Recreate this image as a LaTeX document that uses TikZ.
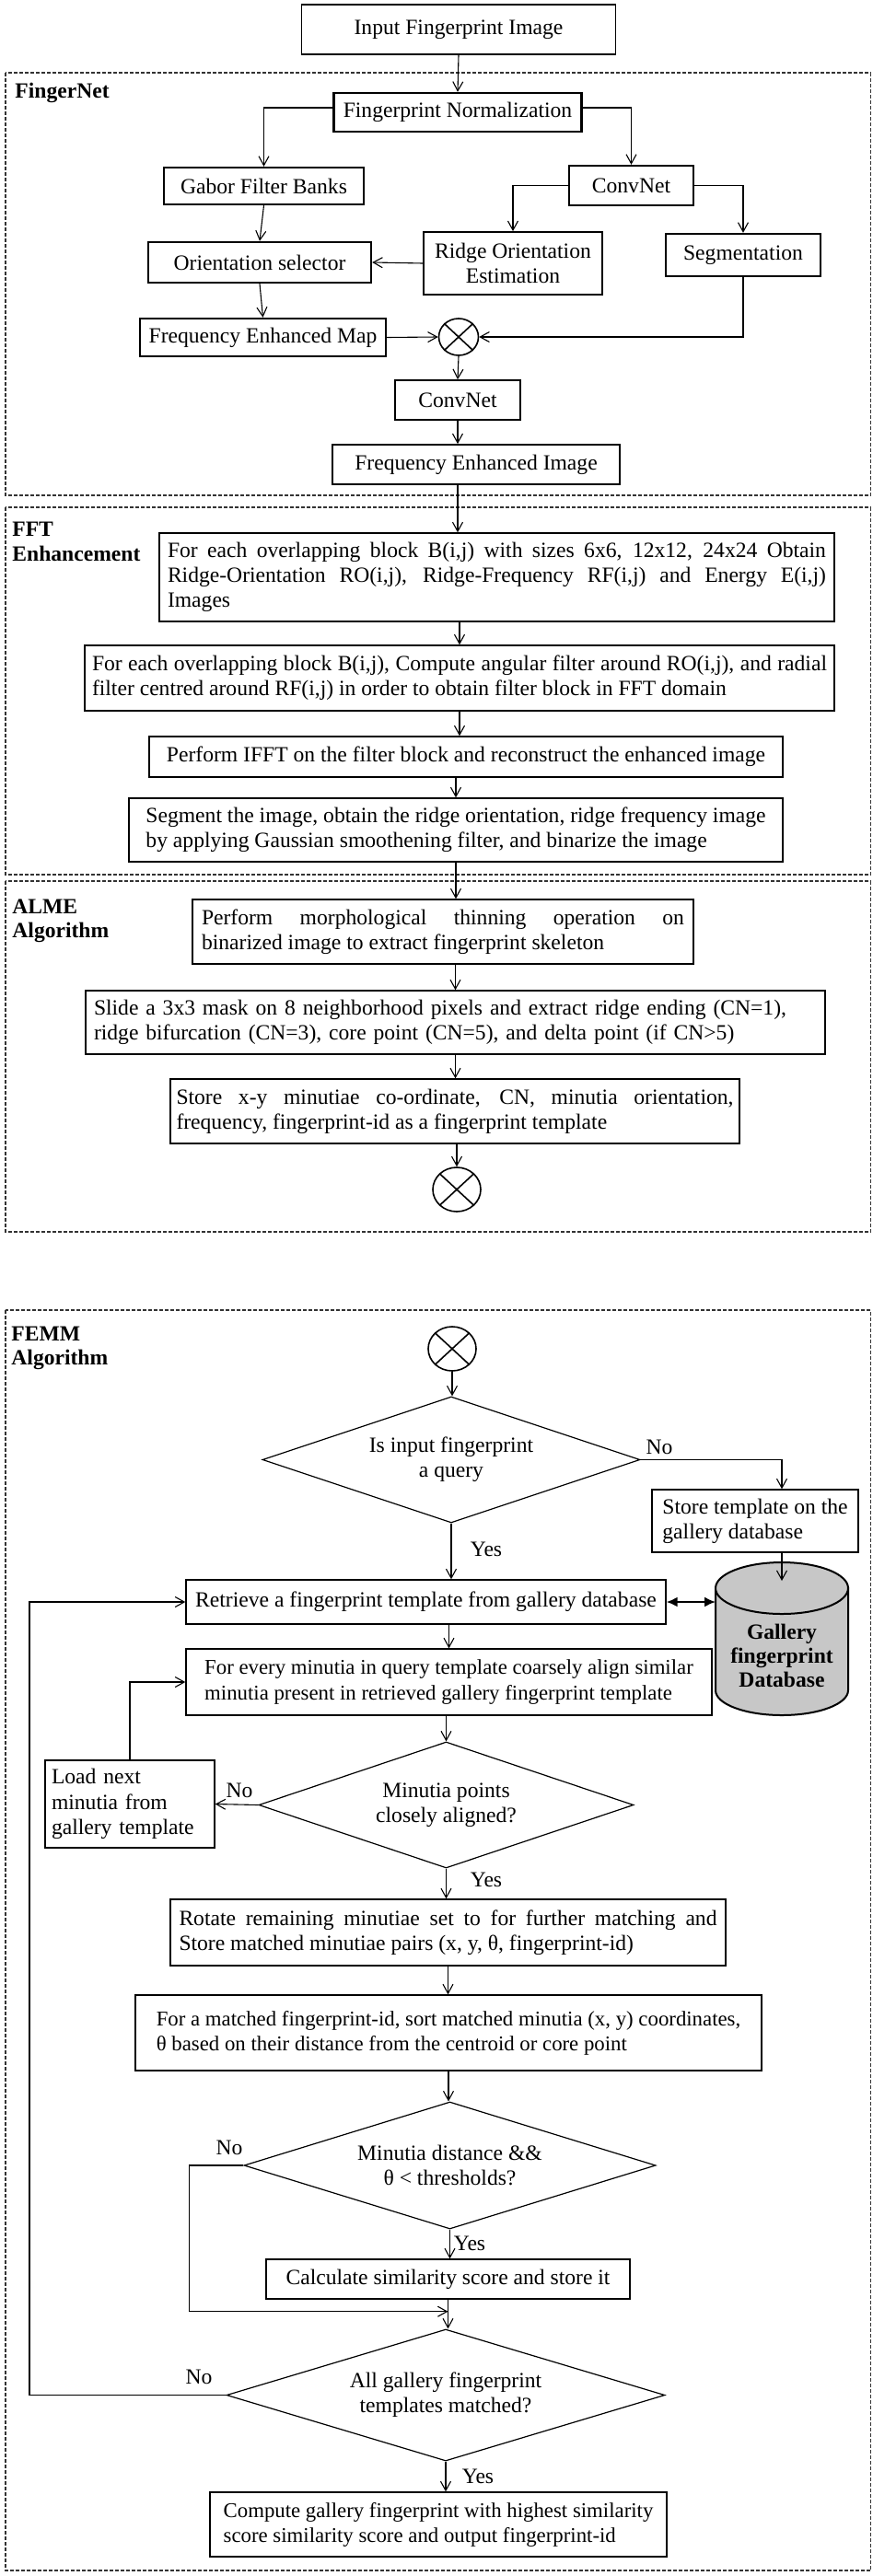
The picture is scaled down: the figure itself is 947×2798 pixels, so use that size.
\documentclass[tikz,border=0pt]{standalone}
\usepackage{fontspec}
\setmainfont{Liberation Serif}
\usetikzlibrary{arrows.meta,shapes.geometric,calc}
\newcommand{\nfont}{\fontsize{11.8pt}{13.6pt}\selectfont}
\newcommand{\sfont}{\fontsize{11.4pt}{13.6pt}\selectfont}
\tikzset{
  every node/.style={font=\nfont},
  box/.style={draw, line width=0.7pt, inner sep=0pt, rectangle},
  tb/.style={box, line width=1.2pt},
  mb/.style={box, line width=0.85pt},
  wh/.style 2 args={minimum width=#1*0.5pt, minimum height=#2*0.5pt},
  dia/.style={draw, diamond, aspect=3, line width=0.6pt, inner sep=0pt, align=center},
  xc/.style={draw, ellipse, line width=0.8pt, inner sep=0pt},
  arr/.style={-{Straight Barb[length=5pt,width=5.5pt]}, line width=0.55pt},
  darr/.style={{Latex[length=6pt,width=5.5pt]}-{Latex[length=6pt,width=5.5pt]}, line width=1pt},
  frame/.style={draw=black!80, line width=0.55pt, dash pattern=on 1.8pt off 1.2pt},
  lab/.style={font=\nfont\bfseries, inner sep=0pt, anchor=base west},
  yn/.style={inner sep=0pt}
}
\begin{document}
\hyphenpenalty=10000
\exhyphenpenalty=10000
\tolerance=9000
\begin{tikzpicture}[x=0.5pt,y=-0.5pt]
\useasboundingbox (0,0) rectangle (947,2798);
\fill[white] (0,0) rectangle (947,2798);

% frames
\draw[frame] (6,79) rectangle (945.5,538);
\draw[frame] (6,551) rectangle (945.5,950);
\draw[frame] (6,957) rectangle (945.5,1338);
\draw[frame] (6,1423) rectangle (945.5,2792);

\node[lab] (lfn) at (16,107) {FingerNet};
\node[lab] (lfft1) at (13,582) {FFT};
\node[lab] (lfft2) at (13,609) {Enhancement};
\node[lab] (lal1) at (13,992) {ALME};
\node[lab] (lal2) at (13,1018) {Algorithm};
\node[lab] (lfe1) at (12,1456) {FEMM};
\node[lab] (lfe2) at (12,1482) {Algorithm};

% ---------------- FingerNet
\node[box, wh={341}{54}] (in) at (498,32) {Input Fingerprint Image};
\node[tb, wh={269}{42}] (norm) at (497,122) {Fingerprint Normalization};
\node[tb, wh={217}{40}] (gab) at (286.5,202) {Gabor Filter Banks};
\node[tb, wh={135}{43}] (cnn1) at (685.5,201.5) {ConvNet};
\node[mb, wh={194}{68}, align=center] (ridge) at (557,286) {Ridge Orientation\\Estimation};
\node[tb, wh={168}{46}] (seg) at (807,277) {Segmentation};
\node[tb, wh={242}{44}] (os) at (282,285) {Orientation selector};
\node[tb, wh={267}{41}] (fem) at (285.5,366.5) {Frequency Enhanced Map};
\node[xc, minimum width=21.5pt, minimum height=20pt] (x1) at (498,366) {};
\draw[line width=0.8pt] (x1.north west) -- (x1.south east) (x1.north east) -- (x1.south west);
\node[mb, wh={136}{43}] (cnn2) at (497,434.5) {ConvNet};
\node[mb, wh={312}{43}] (fei) at (517,504.5) {Frequency Enhanced Image};

\draw[arr] (in.south) -- (norm.north);
\draw[arr] ([yshift=2.5pt]norm.west) -| (gab.north);
\draw[arr] ([yshift=2.5pt]norm.east) -| (cnn1.north);
\draw[arr] (cnn1.west) -| (ridge.north);
\draw[arr] (cnn1.east) -| (seg.north);
\draw[arr] (gab.south) -- (os.north);
\draw[arr] (ridge.west) -- (os.east);
\draw[arr] (os.south) -- (fem.north);
\draw[arr] (fem.east) -- (x1.west);
\draw[arr] (seg.south) |- (x1.east);
\draw[arr] (x1.south) -- (cnn2.north);
\draw[arr] (cnn2.south) -- (cnn2.south |- fei.north);

% ---------------- FFT
\node[box, wh={733}{96}, text width=357.5pt, align=justify] (f1) at (539.5,627)
 {For each overlapping block B(i,j) with sizes 6x6, 12x12, 24x24 Obtain\linebreak Ridge-Orientation RO(i,j), Ridge-Frequency RF(i,j) and Energy E(i,j)\linebreak Images};
\node[box, wh={814}{71}, text width=399pt, align=justify] (f2) at (499,736.5)
 {\parfillskip=0pt For each overlapping block B(i,j), Compute angular filter around RO(i,j), and radial\linebreak filter centred around RF(i,j) in order to obtain filter block in FFT domain};
\node[box, wh={688}{44}] (f3) at (506,822) {Perform IFFT on the filter block and reconstruct the enhanced image};
\node[box, wh={710}{69}, align=left] (f4) at (495,901.5)
 {Segment the image, obtain the ridge orientation, ridge frequency image\\by applying Gaussian smoothening filter, and binarize the image};

\draw[arr] (fei.south -| cnn2.south) -- (cnn2.south |- f1.north);
\draw[arr] (f2.north |- f1.south) -- (f2.north);
\draw[arr] (f2.south) -- (f2.south |- f3.north);
\draw[arr] (f4.north |- f3.south) -- (f4.north);

% ---------------- ALME
\node[box, wh={544}{70}, text width=262pt, align=justify] (a1) at (481,1012)
 {Perform morphological thinning operation on\linebreak binarized image to extract fingerprint skeleton};
\node[box, wh={803}{69}, text width=392.5pt, align=left] (a2) at (494.5,1110.5)
 {Slide a 3x3 mask on 8 neighborhood pixels and extract ridge ending (CN=1),\\ridge bifurcation (CN=3), core point (CN=5), and delta point (if CN>5)};
\node[box, wh={618}{70}, text width=302.5pt, align=justify] (a3) at (494,1207)
 {Store x-y minutiae co-ordinate, CN, minutia orientation,\linebreak frequency, fingerprint-id as a fingerprint template};
\node[xc, minimum width=26pt, minimum height=24pt] (x2) at (496,1292) {};
\draw[line width=0.8pt] (x2.north west) -- (x2.south east) (x2.north east) -- (x2.south west);

\draw[arr] (f4.south) -- (f4.south |- a1.north);
\draw[arr] (a2.north |- a1.south) -- (a2.north);
\draw[arr] (a2.south) -- (a2.south |- a3.north);
\draw[arr] (a3.south -| x2.north) -- (x2.north);

% ---------------- FEMM
\node[xc, minimum width=26pt, minimum height=24pt] (x3) at (491,1465) {};
\draw[line width=0.8pt] (x3.north west) -- (x3.south east) (x3.north east) -- (x3.south west);
\node[dia, wh={410}{137}] (d1) at (490,1585.5) {Is input fingerprint\\a query};
\node[box, wh={224}{68}, align=left] (store) at (820,1652) {Store template on the\\gallery database};
\node[box, wh={521}{48}] (ret) at (462.5,1740) {Retrieve a fingerprint template from gallery database};
\node[box, wh={571}{72}, align=left, font=\sfont] (fe) at (487.5,1827)
 {For every minutia in query template coarsely align similar\\minutia present in retrieved gallery fingerprint template};
\node[dia, wh={407}{137}] (d2) at (484.5,1960.5) {Minutia points\\closely aligned?};
\node[box, wh={184}{95}, text width=85pt, align=left] (load) at (141,1959.5) {Load next\\minutia from\\gallery template};
\node[box, wh={603}{72}, text width=292pt, align=justify] (rot) at (486.5,2099)
 {Rotate remaining minutiae set to for further matching and\linebreak Store matched minutiae pairs (x, y, θ, fingerprint-id)};
\node[box, wh={680}{82}, align=left, font=\sfont] (sort) at (487,2208)
 {For a matched fingerprint-id, sort matched minutia (x, y) coordinates,\\θ based on their distance from the centroid or core point};
\node[dia, wh={447}{138}] (d3) at (488.5,2352) {Minutia distance \&\&\\θ < thresholds?};
\node[box, wh={395}{43}] (calc) at (486.5,2475.5) {Calculate similarity score and store it};
\node[dia, wh={476}{143}] (d4) at (484,2601.5) {All gallery fingerprint\\templates matched?};
\node[box, wh={496}{70}, align=left, font=\sfont] (fin) at (476,2742)
 {Compute gallery fingerprint with highest similarity\\score similarity score and output fingerprint-id};

% database cylinder
\filldraw[fill=black!22, line width=1pt] (777,1725) -- (777,1836)
  arc[start angle=180, end angle=360, x radius=36pt, y radius=13.5pt] -- (921,1725) -- cycle;
\filldraw[fill=black!22, line width=1pt] (849,1725) ellipse [x radius=36pt, y radius=14pt];
\node[font=\fontsize{11.8pt}{13pt}\selectfont\bfseries, align=center, inner sep=0pt] (db) at (849,1798) {Gallery\\fingerprint\\Database};
\coordinate (dbtop) at (849,1717);
\coordinate (dbl) at (777,1738);

% labels
\node[yn] (no1) at (716,1572) {No};
\node[yn] (yes1) at (528,1683) {Yes};
\node[yn] (no2) at (260,1945) {No};
\node[yn] (yes2) at (528,2042) {Yes};
\node[yn] (no3) at (249,2333) {No};
\node[yn] (yes3) at (510,2437) {Yes};
\node[yn] (no4) at (216,2582) {No};
\node[yn] (yes4) at (519,2690) {Yes};

% connectors
\draw[arr] (x3.south) -- (x3.south |- d1.north);
\draw[arr] (d1.east) -| (dbtop |- store.north);
\draw[arr] (dbtop |- store.south) -- (dbtop);
\draw[arr] (d1.south) -- (d1.south |- ret.north);
\draw[darr] (ret.east) -- (ret.east -| dbl);
\draw[arr] (fe.north |- ret.south) -- (fe.north);
\draw[arr] (d2.north |- fe.south) -- (d2.north);
\draw[arr] (d2.west) -- (load.east);
\draw[arr] (load.north) |- (fe.west);
\draw[arr] (d2.south) -- (d2.south |- rot.north);
\draw[arr] (rot.south) -- (rot.south |- sort.north);
\draw[arr] (sort.south) -- (sort.south |- d3.north);
\draw[arr] (d3.south) -- (d3.south |- calc.north);
\path (calc.south) ++(0,13) coordinate (mrg);
\draw[arr] (d3.west) -- ++(-59,0) |- (mrg);
\draw[arr] (calc.south) -- (calc.south |- d4.north);
\coordinate (lp) at (32,2601.5);
\draw[arr] (d4.west) -- (lp) |- (ret.west);
\draw[arr] (d4.south) -- (d4.south |- fin.north);
\end{tikzpicture}
\end{document}
